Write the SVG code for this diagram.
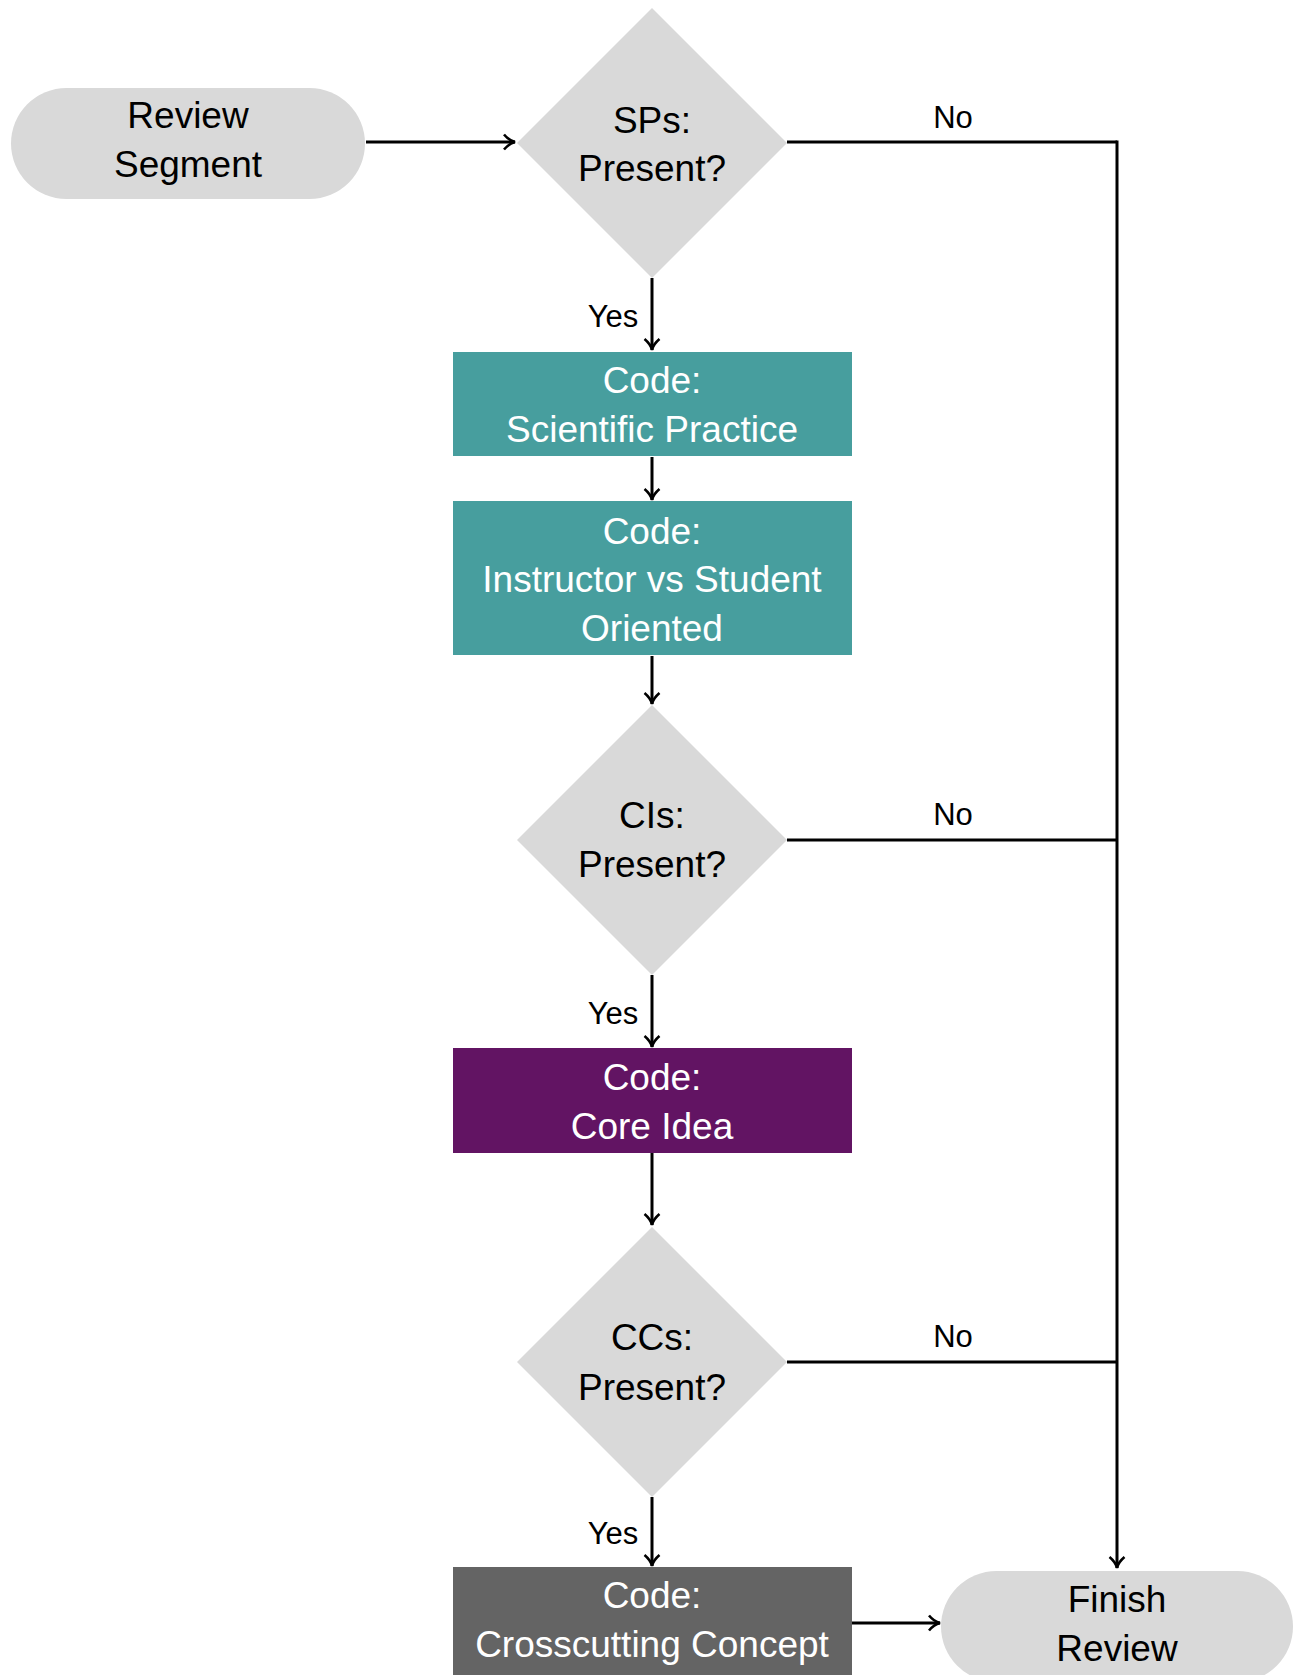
<svg xmlns="http://www.w3.org/2000/svg" width="1298" height="1675" viewBox="0 0 1298 1675">
<style>
.t{font-family:"Liberation Sans","DejaVu Sans",sans-serif;font-size:37px;text-anchor:middle}
.lbl{font-family:"Liberation Sans","DejaVu Sans",sans-serif;font-size:31px;text-anchor:middle;fill:#000}
.dark{fill:#000}
.light{fill:#fff}
.gray{fill:#d9d9d9}
.ln{stroke:#000;stroke-width:3;fill:none}
</style>
<defs>
<marker id="ah" viewBox="0 0 14 18" refX="13" refY="9" markerWidth="14" markerHeight="18" markerUnits="userSpaceOnUse" orient="auto">
<path d="M2,1.5 Q7,7.5 13,9 Q7,10.5 2,16.5" fill="none" stroke="#000" stroke-width="2.6"/>
</marker>
</defs>
<rect width="1298" height="1675" fill="#fff"/>
<g id="connectors">
<line class="ln" x1="366" y1="142" x2="515" y2="142" marker-end="url(#ah)"/>
<line class="ln" x1="787" y1="142" x2="1117" y2="142"/>
<line class="ln" x1="787" y1="840" x2="1117" y2="840"/>
<line class="ln" x1="787" y1="1362" x2="1117" y2="1362"/>
<line class="ln" x1="1117" y1="140.5" x2="1117" y2="1568" marker-end="url(#ah)"/>
<line class="ln" x1="652" y1="278" x2="652" y2="350" marker-end="url(#ah)"/>
<line class="ln" x1="652" y1="457" x2="652" y2="500" marker-end="url(#ah)"/>
<line class="ln" x1="652" y1="656" x2="652" y2="704" marker-end="url(#ah)"/>
<line class="ln" x1="652" y1="975" x2="652" y2="1047" marker-end="url(#ah)"/>
<line class="ln" x1="652" y1="1153" x2="652" y2="1225" marker-end="url(#ah)"/>
<line class="ln" x1="652" y1="1497" x2="652" y2="1566" marker-end="url(#ah)"/>
<line class="ln" x1="852" y1="1623" x2="940" y2="1623" marker-end="url(#ah)"/>
<text class="lbl" x="953" y="128">No</text>
<text class="lbl" x="953" y="825">No</text>
<text class="lbl" x="953" y="1347">No</text>
<text class="lbl" x="613" y="327">Yes</text>
<text class="lbl" x="613" y="1024">Yes</text>
<text class="lbl" x="613" y="1544">Yes</text>
</g>
<g id="review-segment">
<rect class="gray" x="11" y="88" width="354" height="111" rx="55.5"/>
<text class="t dark" x="188" y="128">Review</text>
<text class="t dark" x="188" y="177">Segment</text>
</g>
<g id="sps-present">
<polygon class="gray" points="652,8 787,143 652,278 517,143"/>
<text class="t dark" x="652" y="133">SPs:</text>
<text class="t dark" x="652" y="181">Present?</text>
</g>
<g id="code-sp">
<rect x="453" y="352" width="399" height="104" fill="#479e9e"/>
<text class="t light" x="652" y="393">Code:</text>
<text class="t light" x="652" y="442">Scientific Practice</text>
</g>
<g id="code-isso">
<rect x="453" y="501" width="399" height="154" fill="#479e9e"/>
<text class="t light" x="652" y="544">Code:</text>
<text class="t light" x="652" y="592">Instructor vs Student</text>
<text class="t light" x="652" y="641">Oriented</text>
</g>
<g id="cis-present">
<polygon class="gray" points="652,705 787,840 652,975 517,840"/>
<text class="t dark" x="652" y="828">CIs:</text>
<text class="t dark" x="652" y="877">Present?</text>
</g>
<g id="code-ci">
<rect x="453" y="1048" width="399" height="105" fill="#621463"/>
<text class="t light" x="652" y="1090">Code:</text>
<text class="t light" x="652" y="1139">Core Idea</text>
</g>
<g id="ccs-present">
<polygon class="gray" points="652,1227 787,1362 652,1497 517,1362"/>
<text class="t dark" x="652" y="1350">CCs:</text>
<text class="t dark" x="652" y="1400">Present?</text>
</g>
<g id="code-cc">
<rect x="453" y="1567" width="399" height="120" fill="#646464"/>
<text class="t light" x="652" y="1608">Code:</text>
<text class="t light" x="652" y="1657">Crosscutting Concept</text>
</g>
<g id="finish-review">
<rect class="gray" x="941" y="1571" width="352" height="111" rx="55.5"/>
<text class="t dark" x="1117" y="1612">Finish</text>
<text class="t dark" x="1117" y="1661">Review</text>
</g>
</svg>
